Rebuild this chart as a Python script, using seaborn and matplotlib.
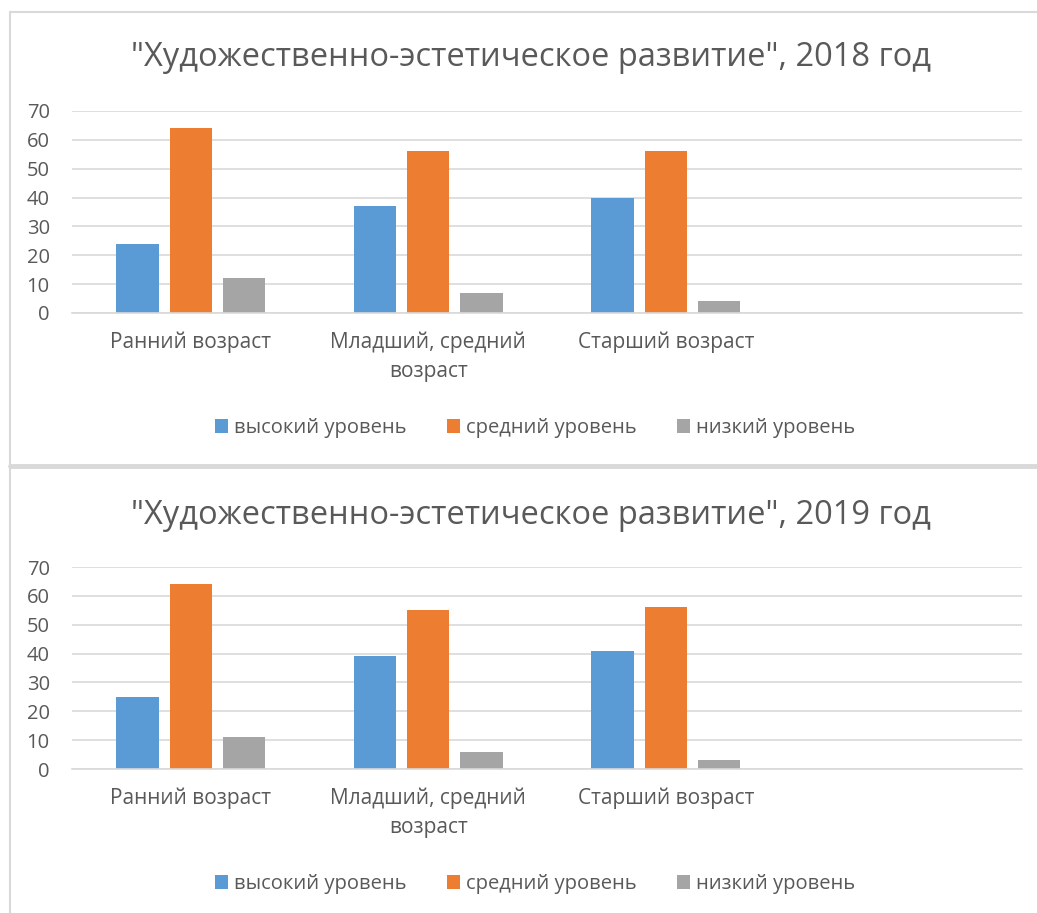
import numpy as np
import pandas as pd
import seaborn as sns
import matplotlib.pyplot as plt
from matplotlib.lines import Line2D
from matplotlib.patches import Patch

# data
groups = ['Ранний возраст', 'Младший, средний\nвозраст', 'Старший возраст']
levels = ['высокий уровень', 'средний уровень', 'низкий уровень']
high_2018 = [24, 37, 40]
mid_2018 = [64, 56, 56]
low_2018 = [12, 7, 4]
high_2019 = [25, 39, 41]
mid_2019 = [64, 55, 56]
low_2019 = [11, 6, 3]
years = ['2018', '2019']
yticks = [0, 10, 20, 30, 40, 50, 60, 70]

colors = ['#5B9BD5', '#ED7D31', '#A5A5A5']
txt = '#595959'
grid = '#D9D9D9'

sns.set_theme(style='white')
plt.rcParams['font.family'] = ['Open Sans', 'DejaVu Sans']

def make_df(h, m, l):
    rows = []
    for lev, vals in zip(levels, [h, m, l]):
        for g, v in zip(groups, vals):
            rows.append({'group': g, 'level': lev, 'value': v})
    return pd.DataFrame(rows)

data = {'2018': make_df(high_2018, mid_2018, low_2018),
        '2019': make_df(high_2019, mid_2019, low_2019)}

W, H = 1037, 913
fig = plt.figure(figsize=(W / 100, H / 100), dpi=100)

# plot-area pixel geometry: (top of 70, zero line)
areas = [(111, 313), (567, 769)]
titles_y = [58, 515]
legend_y = [428, 884]

for yr, (top, bot), ty, ly in zip(years, areas, titles_y, legend_y):
    ax = fig.add_axes([72 / W, 1 - bot / H, 950 / W, (bot - top) / H])
    sns.barplot(data=data[yr], x='group', y='value', hue='level',
                order=groups, hue_order=levels, palette=colors,
                width=0.67, gap=0.2, ax=ax, legend=False,
                edgecolor='none', saturation=1)
    ax.set_xlim(-0.5, 3.5)
    ax.set_ylim(0, 70)
    ax.set_yticks(yticks)
    ax.yaxis.grid(True, color=grid, linewidth=1.2)
    ax.set_axisbelow(True)
    for s in ['top', 'right', 'left']:
        ax.spines[s].set_visible(False)
    ax.spines['bottom'].set_color(grid)
    ax.spines['bottom'].set_linewidth(1.2)
    ax.tick_params(axis='both', length=0, colors=txt)
    ax.tick_params(axis='x', pad=13, labelsize=15)
    ax.tick_params(axis='y', pad=16, labelsize=14.5)
    for lab in ax.get_xticklabels():
        lab.set_linespacing(1.5)
    ax.set_xlabel('')
    ax.set_ylabel('')
    fig.text(531 / W, 1 - ty / H,
             '"Художественно-эстетическое развитие", ' + yr + ' год',
             ha='center', va='center', fontsize=23.5, color=txt)
    handles = [Patch(facecolor=c, edgecolor='none') for c in colors]
    fig.legend(handles, levels, loc='center', bbox_to_anchor=(535 / W, 1 - ly / H),
               ncol=3, frameon=False, fontsize=14.5, labelcolor=txt,
               handlelength=0.65, handleheight=0.65, handletextpad=0.3,
               columnspacing=2.0)

# chart frames
fig.add_artist(Line2D([10 / W, 1], [1 - 12 / H, 1 - 12 / H], color=grid, lw=1.5))
fig.add_artist(Line2D([10 / W, 10 / W], [0, 1 - 12 / H], color=grid, lw=1.5))
fig.add_artist(Line2D([10 / W, 1], [1 - 466 / H, 1 - 466 / H], color=grid, lw=3.5))

fig.savefig('out.png', dpi=100)
